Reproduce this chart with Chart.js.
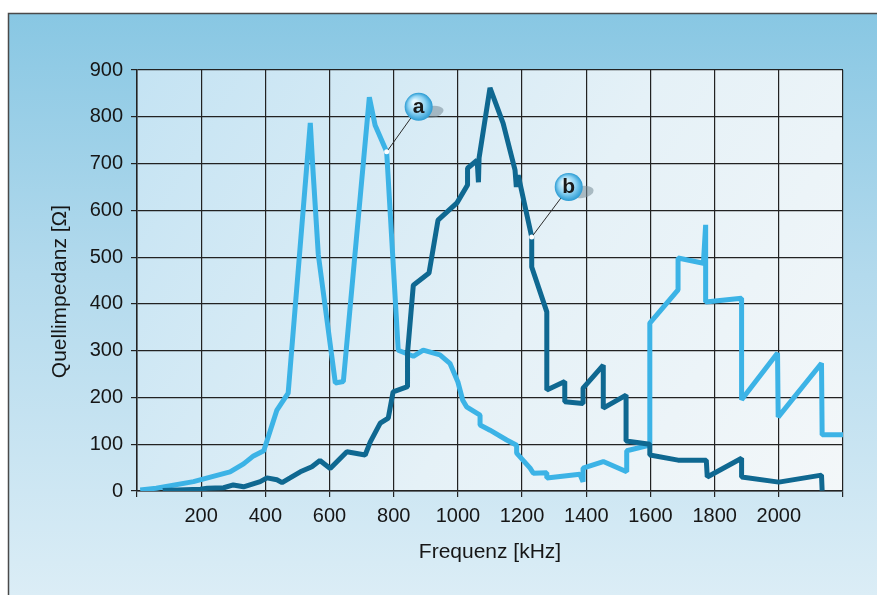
<!DOCTYPE html>
<html>
<head>
<meta charset="utf-8">
<script src="https://cdn.jsdelivr.net/npm/chart.js@4/dist/chart.umd.min.js"></script>
<style>
  html, body { margin: 0; padding: 0; background: #fff; }
  canvas { display: block; }
</style>
</head>
<body>
<canvas id="impedanceChart" width="877" height="595"></canvas>
<script>
// Curve a (light blue): frequency [kHz] / source impedance [Ohm]
const freqA = [10, 60, 176, 290, 332, 363, 395, 436, 471, 540, 548, 565, 618, 643, 724, 742, 778, 814,
  861, 892, 944, 975, 1000, 1015, 1027, 1069, 1069, 1100, 1152, 1183, 1183, 1225, 1235, 1277, 1277,
  1380, 1390, 1390, 1453, 1526, 1526, 1598, 1598, 1686, 1686, 1765, 1772, 1772, 1884, 1884, 1996,
  1998, 2133, 2135, 2200];
const impA = [2, 6, 20, 41, 58, 75, 86, 173, 209, 787, 690, 505, 231, 234, 842, 782, 725, 301,
  288, 301, 291, 273, 233, 194, 180, 162, 141, 130, 109, 98, 81, 49, 38, 39, 28,
  36, 20, 49, 63, 41, 86, 98, 359, 430, 498, 487, 569, 404, 412, 195, 295,
  158, 273, 120, 120];

// Curve b (dark blue)
const freqB = [80, 197, 219, 270, 300, 332, 384, 405, 436, 452, 477, 509, 545, 570, 602, 654, 711,
  727, 758, 783, 798, 843, 843, 861, 910, 938, 997, 1030, 1030, 1060, 1064, 1066, 1100, 1141, 1178,
  1182, 1188, 1230, 1230, 1277, 1277, 1333, 1333, 1390, 1390, 1453, 1453, 1524, 1524, 1598, 1598,
  1686, 1774, 1777, 1884, 1884, 2000, 2133, 2135];
const impB = [1, 4, 6, 7, 13, 9, 20, 28, 24, 18, 28, 41, 52, 65, 48, 84, 77,
  105, 145, 156, 212, 223, 295, 440, 466, 579, 616, 654, 690, 707, 660, 712, 862, 786, 686,
  650, 675, 543, 479, 383, 216, 234, 191, 187, 220, 269, 177, 205, 107, 100, 77,
  66, 66, 30, 70, 30, 19, 34, 1];

// Axis ticks
const xTicks = [200, 400, 600, 800, 1000, 1200, 1400, 1600, 1800, 2000];
const yTicks = [0, 100, 200, 300, 400, 500, 600, 700, 800, 900];

// Callout labels and the curve points they point at
const calloutLabels = ["a", "b"];
const calloutFreq = [778, 1230];
const calloutImp = [725, 543];

const TEXT = "#161616";
const GRID = "#222";
const FONT = "'Liberation Sans', Arial, sans-serif";

const toPoints = (xs, ys) => xs.map((x, i) => ({ x: x, y: ys[i] }));

/**
 * Panel and plot backgrounds, y axis title
 */
const backdrop = {
  id: "backdrop",
  beforeDraw(chart) {
    const { ctx, width, height, chartArea: a } = chart;
    ctx.save();
    ctx.fillStyle = "#fff";
    ctx.fillRect(0, 0, width, height);

    const g = ctx.createLinearGradient(0, 13, 0, height);
    g.addColorStop(0, "#88c7e3");
    g.addColorStop(0.45, "#b3daed");
    g.addColorStop(1, "#dbedf6");
    ctx.fillStyle = g;
    ctx.fillRect(8, 13, width - 8, height - 13);

    ctx.strokeStyle = "#4a4a4a";
    ctx.lineWidth = 1.5;
    ctx.beginPath();
    ctx.moveTo(8.5, height);
    ctx.lineTo(8.5, 13.5);
    ctx.lineTo(width, 13.5);
    ctx.stroke();

    const p = ctx.createLinearGradient(a.left, a.top, a.right, a.bottom);
    p.addColorStop(0, "#c4e3f3");
    p.addColorStop(0.55, "#e5f1f7");
    p.addColorStop(1, "#f3f7f9");
    ctx.fillStyle = p;
    ctx.fillRect(a.left, a.top, a.right - a.left, a.bottom - a.top);

    // y axis title, sitting a little below the plot's middle as in the print
    ctx.translate(60, (a.top + a.bottom) / 2 + 11);
    ctx.rotate(-Math.PI / 2);
    ctx.fillStyle = TEXT;
    ctx.font = "21px " + FONT;
    ctx.textAlign = "center";
    ctx.textBaseline = "middle";
    ctx.fillText("Quellimpedanz [Ω]", 0, 0);
    ctx.restore();
  },
};

/**
 * Bubble callouts "a" / "b"
 */
const callouts = {
  id: "callouts",
  afterDatasetsDraw(chart) {
    const { ctx, scales } = chart;
    ctx.save();
    calloutLabels.forEach((label, i) => {
      const px = scales.x.getPixelForValue(calloutFreq[i]);
      const py = scales.y.getPixelForValue(calloutImp[i]);
      const bx = px + (i === 0 ? 32 : 37);
      const by = py - (i === 0 ? 45 : 50);

      ctx.strokeStyle = "#2b2b2b";
      ctx.lineWidth = 1;
      ctx.beginPath();
      ctx.moveTo(px, py);
      ctx.lineTo(bx - 7, by + 10);
      ctx.stroke();

      ctx.fillStyle = "#fff";
      ctx.beginPath();
      ctx.arc(px, py, 2.5, 0, Math.PI * 2);
      ctx.fill();

      ctx.fillStyle = "rgba(120, 140, 152, 0.55)";
      ctx.beginPath();
      ctx.ellipse(bx + 13, by + 5, 12, 6, -0.15, 0, Math.PI * 2);
      ctx.fill();

      const rg = ctx.createRadialGradient(bx - 4, by - 5, 2, bx, by, 14);
      rg.addColorStop(0, "#e4f7ff");
      rg.addColorStop(0.55, "#8fd3f3");
      rg.addColorStop(1, "#2a9bd3");
      ctx.fillStyle = rg;
      ctx.beginPath();
      ctx.arc(bx, by, 14, 0, Math.PI * 2);
      ctx.fill();

      ctx.fillStyle = "#1a1a1a";
      ctx.font = "bold 21px " + FONT;
      ctx.textAlign = "center";
      ctx.textBaseline = "middle";
      ctx.fillText(label, bx, by);
    });
    ctx.restore();
  },
};

const lineStyle = {
  borderWidth: 5,
  pointRadius: 0,
  tension: 0,
  fill: false,
  borderJoinStyle: "bevel",
  borderCapStyle: "butt",
};

new Chart(document.getElementById("impedanceChart"), {
  type: "line",
  data: {
    datasets: [
      Object.assign({ label: "b", data: toPoints(freqB, impB), borderColor: "#0f6891" }, lineStyle),
      Object.assign({ label: "a", data: toPoints(freqA, impA), borderColor: "#3cb3e6" }, lineStyle),
    ],
  },
  options: {
    responsive: false,
    animation: false,
    layout: { padding: { top: 70, right: 34, left: 0, bottom: 0 } },
    plugins: {
      legend: { display: false },
      tooltip: { enabled: false },
    },
    scales: {
      x: {
        type: "linear",
        min: 0,
        max: 2200,
        afterBuildTicks: (s) => {
          s.ticks = [0].concat(xTicks, [2200]).map((v) => ({ value: v }));
        },
        ticks: {
          callback: (v) => (xTicks.includes(v) ? String(v) : ""),
          color: TEXT,
          font: { family: FONT, size: 20 },
          padding: 7,
          maxRotation: 0,
          autoSkip: false,
        },
        grid: { color: GRID, lineWidth: 1.2, tickLength: 6, tickColor: GRID },
        border: { color: GRID, width: 1.5 },
        title: {
          display: true,
          text: "Frequenz [kHz]",
          color: TEXT,
          font: { family: FONT, size: 21 },
          padding: { top: 4, bottom: 30 },
        },
        afterFit: (s) => { s.height = 104; },
      },
      y: {
        min: 0,
        max: 900,
        afterBuildTicks: (s) => {
          s.ticks = yTicks.map((v) => ({ value: v }));
        },
        ticks: {
          color: TEXT,
          font: { family: FONT, size: 20 },
          padding: 8,
        },
        grid: { color: GRID, lineWidth: 1.2, tickLength: 6, tickColor: GRID },
        border: { color: GRID, width: 1.5 },
        afterFit: (s) => { s.width = 137; },
      },
    },
  },
  plugins: [backdrop, callouts],
});
</script>
</body>
</html>
